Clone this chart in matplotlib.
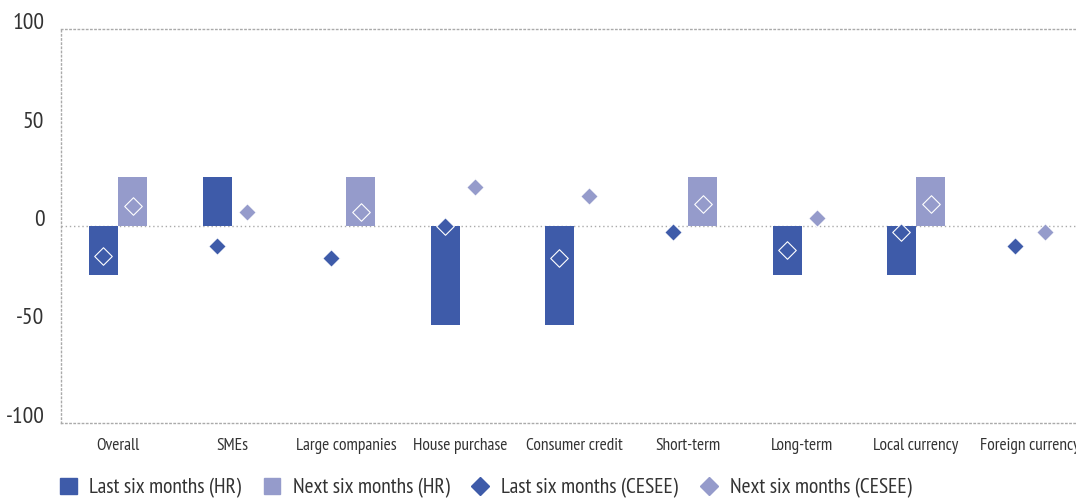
import numpy as np
import matplotlib.pyplot as plt
from matplotlib.lines import Line2D
from matplotlib.patches import Patch

plt.rcParams['font.family'] = ['PT Sans Narrow', 'DejaVu Sans']

categories = ['Overall', 'SMEs', 'Large companies', 'House purchase', 'Consumer credit',
              'Short-term', 'Long-term', 'Local currency', 'Foreign currency']
hr_last = [-25, 25, 0, -50, -50, 0, -25, -25, 0]
hr_next = [25, 0, 25, 0, 0, 25, 0, 25, 0]
cesee_last = [-15, -10, -16, 0, -16, -3, -12, -3, -10]
cesee_next = [10, 7, 7, 20, 15, 11, 4, 11, -3]

dark = '#3E5BA9'
light = '#959BCB'
grey = '#AAAAAA'
txt = '#333333'

fig = plt.figure(figsize=(10.76, 5), dpi=100)
ax = fig.add_axes([61 / 1076, 77 / 500, 1026 / 1076, 394 / 500])

x = np.arange(len(categories))
w = 0.255
ax.axhline(0, color=grey, lw=1, ls=(0, (1, 2)), zorder=1)
ax.bar(x - w / 2, hr_last, w, color=dark, zorder=2)
ax.bar(x + w / 2, hr_next, w, color=light, zorder=2)
ax.scatter(x - w / 2, cesee_last, marker='D', s=80, color=dark, edgecolor='white', lw=0.8, zorder=3)
ax.scatter(x + w / 2, cesee_next, marker='D', s=80, color=light, edgecolor='white', lw=0.8, zorder=3)

ax.set_xlim(-0.5, len(categories) - 0.5)
ax.set_ylim(-100, 100)
ax.set_yticks([-100, -50, 0, 50, 100])
ax.set_yticklabels(['-100', '-50', '0', '50', '100'], fontsize=17, color=txt)
ax.set_xticks(x)
ax.set_xticklabels(categories, fontsize=12.5, color=txt)
ax.tick_params(length=0, pad=12)
ax.tick_params(axis='x', pad=11)

for s in ['left', 'top', 'bottom']:
    ax.spines[s].set_linestyle((0, (1, 2)))
    ax.spines[s].set_color(grey)
    ax.spines[s].set_linewidth(1)
ax.spines['right'].set_visible(False)
# numbers sit on the gridline, not centred on it
for lab in ax.get_yticklabels():
    lab.set_verticalalignment('baseline')

handles = [Patch(color=dark), Patch(color=light),
           Line2D([], [], marker='D', ls='', color=dark, markersize=9),
           Line2D([], [], marker='D', ls='', color=light, markersize=9)]
labels = ['Last six months (HR)', 'Next six months (HR)',
          'Last six months (CESEE)', 'Next six months (CESEE)']
fig.legend(handles, labels, loc='lower left', bbox_to_anchor=(41 / 1076, -0.035), ncol=4,
           frameon=False, fontsize=15.5, handlelength=0.75, handleheight=0.75,
           handletextpad=0.6, columnspacing=1.05, labelcolor=txt)

fig.savefig('out.png', dpi=100)
